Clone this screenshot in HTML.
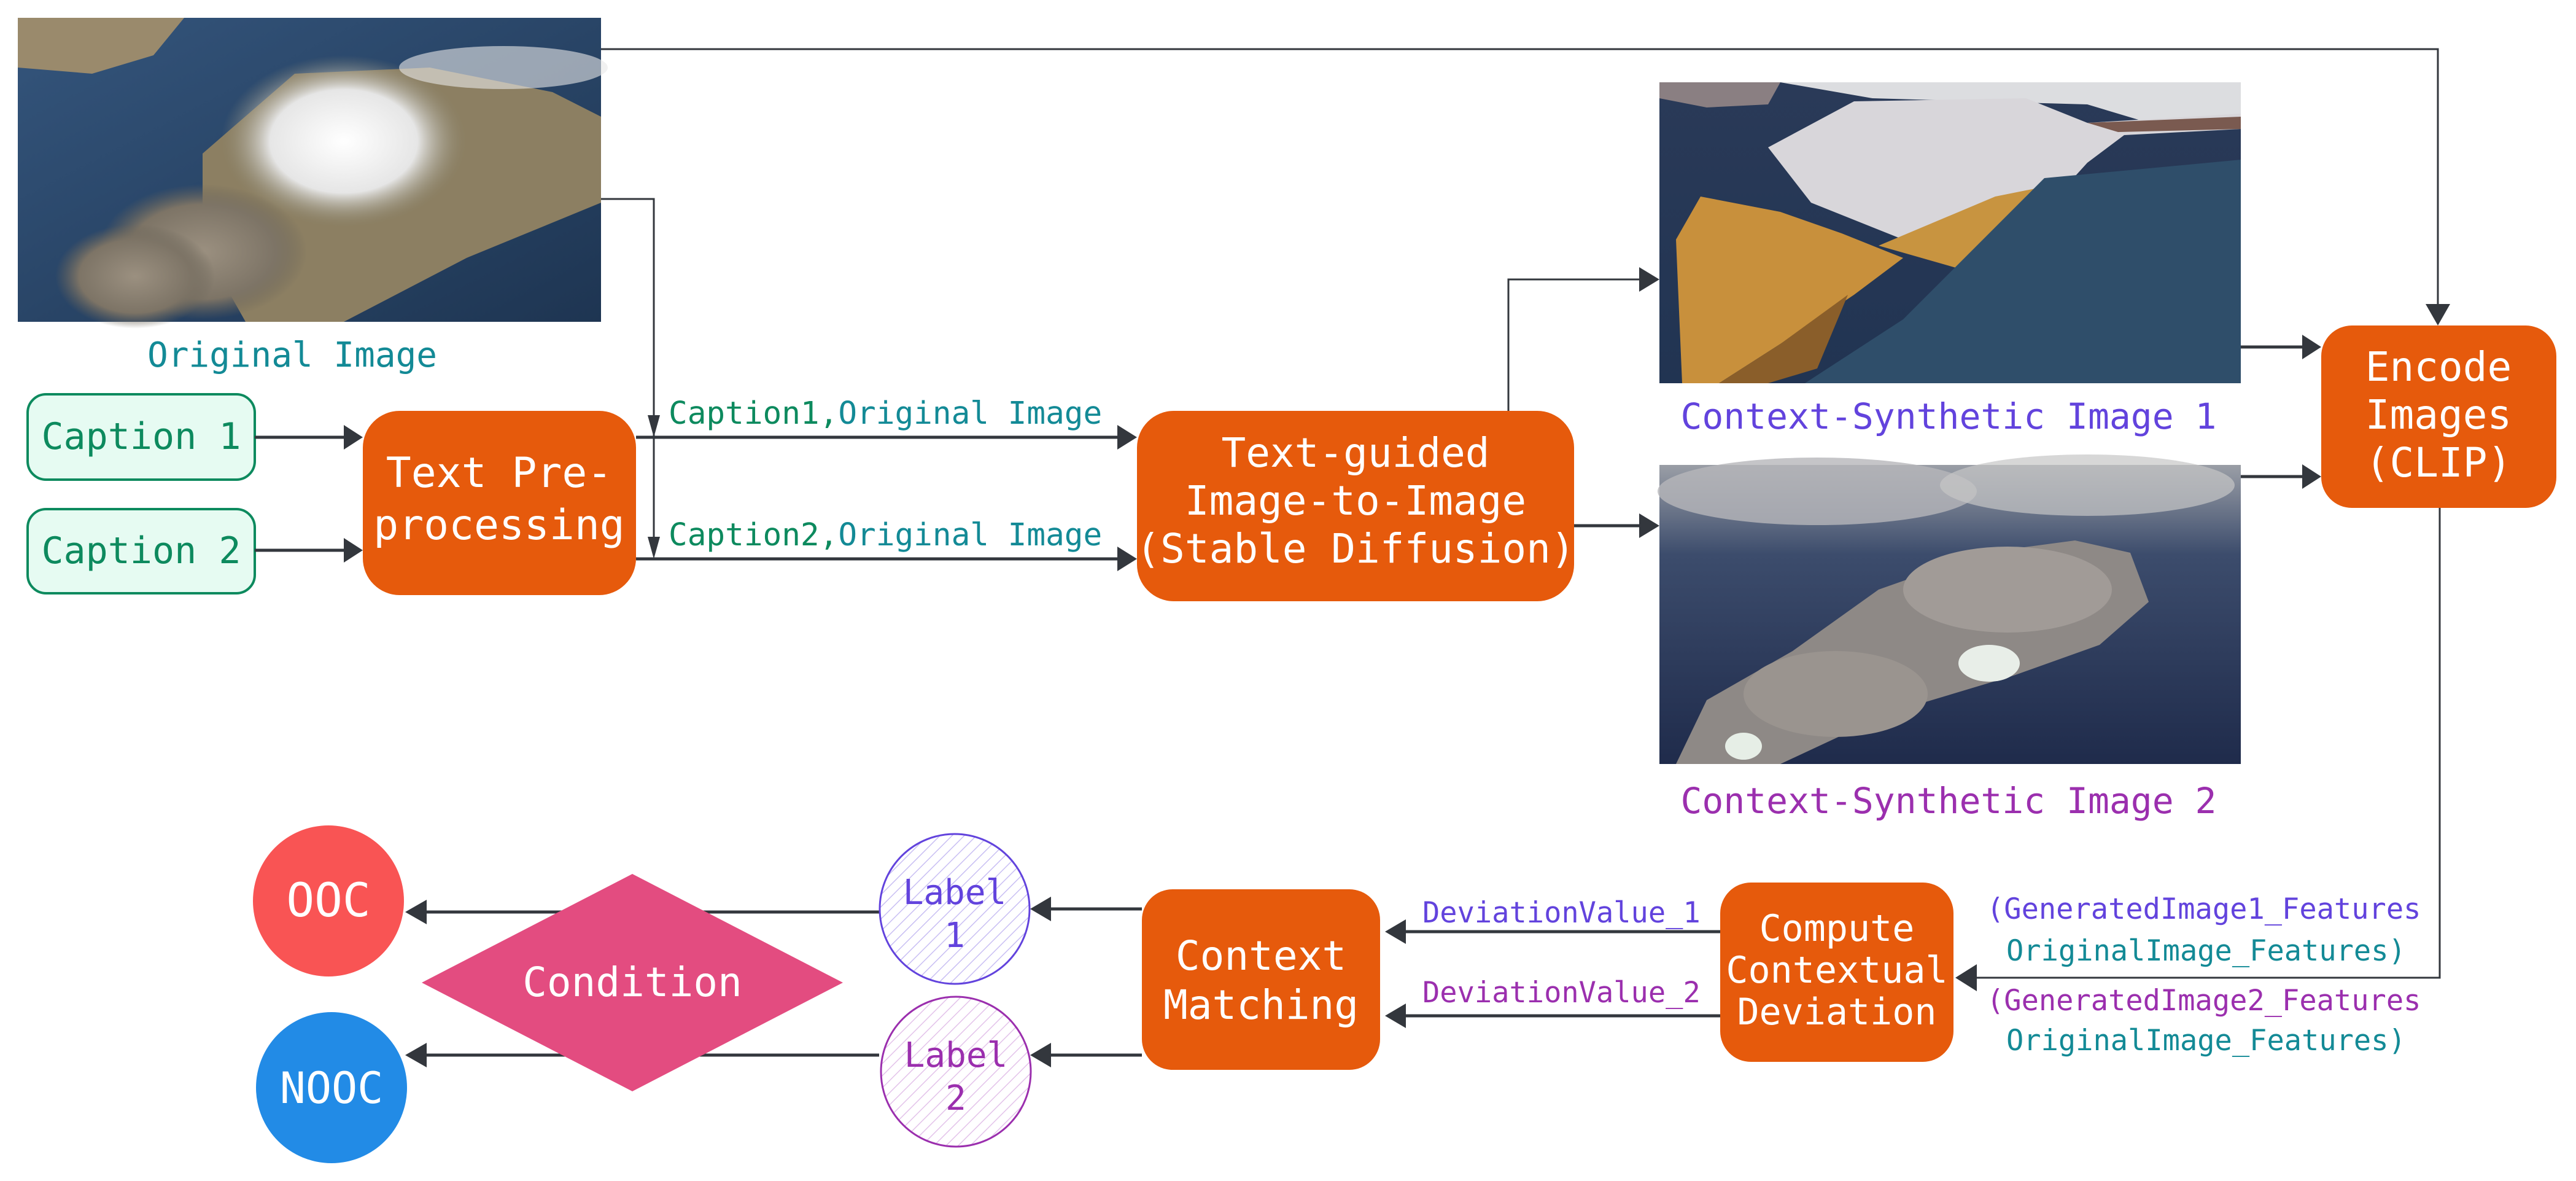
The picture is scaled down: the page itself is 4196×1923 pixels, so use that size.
<!DOCTYPE html>
<html><head><meta charset="utf-8"><style>
html,body{margin:0;padding:0;background:#fff;}
svg{display:block;}
text{font-family:"DejaVu Sans Mono","Liberation Mono",monospace;}
</style></head><body>
<svg width="4196" height="1923" viewBox="0 0 4196 1923" xmlns="http://www.w3.org/2000/svg">
<defs>
<linearGradient id="sea" x1="0" y1="0" x2="1" y2="1"><stop offset="0" stop-color="#34557c"/><stop offset="1" stop-color="#1e3552"/></linearGradient>
<radialGradient id="snow" cx="0.5" cy="0.5" r="0.5"><stop offset="0" stop-color="#ffffff"/><stop offset="0.6" stop-color="#e6e6e6"/><stop offset="1" stop-color="#8a8670" stop-opacity="0"/></radialGradient>
<radialGradient id="ash" cx="0.5" cy="0.5" r="0.5"><stop offset="0" stop-color="#9b9080"/><stop offset="0.7" stop-color="#7d7466"/><stop offset="1" stop-color="#6a6458" stop-opacity="0"/></radialGradient>
<linearGradient id="img1" x1="0" y1="0" x2="0" y2="1"><stop offset="0" stop-color="#2a3a58"/><stop offset="1" stop-color="#213452"/></linearGradient>
<linearGradient id="img2" x1="0" y1="0" x2="0" y2="1"><stop offset="0" stop-color="#9a9ea6"/><stop offset="0.3" stop-color="#3c4c6c"/><stop offset="1" stop-color="#1f2b4b"/></linearGradient>
<pattern id="h1" width="14" height="14" patternUnits="userSpaceOnUse" patternTransform="rotate(45)"><rect width="14" height="14" fill="#fff"/><line x1="0" y1="0" x2="0" y2="14" stroke="#c9bff3" stroke-width="3"/></pattern>
<pattern id="h2" width="14" height="14" patternUnits="userSpaceOnUse" patternTransform="rotate(45)"><rect width="14" height="14" fill="#fff"/><line x1="0" y1="0" x2="0" y2="14" stroke="#e3c3ea" stroke-width="3"/></pattern>
</defs>

<!-- Original image -->
<rect x="29" y="29" width="950" height="495" fill="url(#sea)"/>
<path d="M29 29 L300 29 L250 90 L150 120 L29 110 Z" fill="#9a8a6c"/>
<path d="M330 250 L480 120 L700 110 L900 150 L979 190 L979 330 L760 420 L560 524 L400 524 L330 400 Z" fill="#8c7f62"/>
<ellipse cx="560" cy="230" rx="200" ry="140" fill="url(#snow)"/>
<ellipse cx="330" cy="410" rx="170" ry="110" fill="url(#ash)"/>
<ellipse cx="220" cy="450" rx="130" ry="85" fill="url(#ash)"/>
<ellipse cx="820" cy="110" rx="170" ry="35" fill="#e8e8e8" opacity="0.6"/>
<text x="476" y="597" font-size="56" fill="#138a96" text-anchor="middle">Original Image</text>

<!-- Captions -->
<rect x="45" y="642" width="370" height="139" rx="30" fill="#e6fbf2" stroke="#0d8a5e" stroke-width="4"/>
<text x="230" y="731" font-size="60" fill="#0d8a5e" text-anchor="middle">Caption 1</text>
<rect x="45" y="829" width="370" height="137" rx="30" fill="#e6fbf2" stroke="#0d8a5e" stroke-width="4"/>
<text x="230" y="917" font-size="60" fill="#0d8a5e" text-anchor="middle">Caption 2</text>

<!-- Text preprocessing -->
<rect x="591" y="669" width="445" height="300" rx="60" fill="#e65a0c"/>
<text x="813" y="793" font-size="68" fill="#fff" text-anchor="middle">Text Pre-</text>
<text x="813" y="878" font-size="68" fill="#fff" text-anchor="middle">processing</text>

<g stroke="#33373d" stroke-width="5" fill="none">
<line x1="415" y1="712" x2="560" y2="712"/>
<line x1="415" y1="896" x2="560" y2="896"/>
<line x1="1036" y1="712" x2="1820" y2="712"/>
<line x1="1036" y1="910" x2="1820" y2="910"/>
<line x1="2564" y1="856" x2="2670" y2="856"/>
<line x1="3650" y1="565" x2="3750" y2="565"/>
<line x1="3650" y1="776" x2="3750" y2="776"/>
<line x1="2802" y1="1517" x2="2290" y2="1517"/>
<line x1="2802" y1="1654" x2="2290" y2="1654"/>
<line x1="1860" y1="1480" x2="1712" y2="1480"/>
<line x1="1860" y1="1718" x2="1712" y2="1718"/>
<line x1="1432" y1="1485" x2="695" y2="1485"/>
<line x1="1432" y1="1718" x2="695" y2="1718"/>
</g>
<g stroke="#33373d" stroke-width="3" fill="none">
<polyline points="979,324 1065,324 1065,880"/>
<polyline points="979,80 3971,80 3971,495"/>
<polyline points="2457,669 2457,455 2670,455"/>
<polyline points="3974,827 3974,1592 3220,1592"/>
</g>
<g fill="#33373d">
<polygon points="560,692 591,712 560,732"/>
<polygon points="560,876 591,896 560,916"/>
<polygon points="1820,692 1852,712 1820,732"/>
<polygon points="1820,890 1852,910 1820,930"/>
<polygon points="1055,676 1075,676 1065,712"/>
<polygon points="1055,874 1075,874 1065,910"/>
<polygon points="2670,836 2703,856 2670,876"/>
<polygon points="2670,435 2703,455 2670,475"/>
<polygon points="3951,495 3991,495 3971,530"/>
<polygon points="3750,545 3781,565 3750,585"/>
<polygon points="3750,756 3781,776 3750,796"/>
<polygon points="3220,1570 3185,1592 3220,1614"/>
<polygon points="2290,1497 2256,1517 2290,1537"/>
<polygon points="2290,1634 2256,1654 2290,1674"/>
<polygon points="1712,1460 1678,1480 1712,1500"/>
<polygon points="1712,1698 1678,1718 1712,1738"/>
<polygon points="695,1465 660,1485 695,1505"/>
<polygon points="695,1698 660,1718 695,1738"/>
</g>

<text x="1089" y="690" font-size="51"><tspan fill="#0d8a5e">Caption1,</tspan><tspan fill="#138a96">Original Image</tspan></text>
<text x="1089" y="888" font-size="51"><tspan fill="#0d8a5e">Caption2,</tspan><tspan fill="#138a96">Original Image</tspan></text>

<!-- Text-guided -->
<rect x="1852" y="669" width="712" height="310" rx="60" fill="#e65a0c"/>
<text x="2208" y="760" font-size="66" fill="#fff" text-anchor="middle">Text-guided</text>
<text x="2208" y="838" font-size="66" fill="#fff" text-anchor="middle">Image-to-Image</text>
<text x="2208" y="916" font-size="66" fill="#fff" text-anchor="middle">(Stable Diffusion)</text>

<!-- Image 1 -->
<rect x="2703" y="134" width="947" height="490" fill="url(#img1)"/>
<path d="M2703 134 L2900 134 L2880 170 L2780 175 L2703 160 Z" fill="#8a7f82"/>
<path d="M2900 134 L3650 134 L3650 210 L3500 200 L3400 170 L3050 160 Z" fill="#dcdde0"/>
<path d="M2880 240 L3020 165 L3300 160 L3400 200 L3650 185 L3650 210 L3460 220 L3400 265 L3350 320 L3150 410 L2950 330 Z" fill="#d8d6da"/>
<path d="M3650 190 L3650 210 L3450 215 L3400 200 Z" fill="#7a5a50"/>
<path d="M3060 400 L3250 320 L3350 300 L3300 380 L3200 440 Z" fill="#c89440"/>
<path d="M2730 390 L2770 320 L2900 345 L3000 380 L3100 420 L3020 480 L2900 560 L2800 624 L2740 624 Z" fill="#c8903c"/>
<path d="M2800 624 L2900 560 L3010 480 L2960 600 L2880 624 Z" fill="#8a5e2a"/>
<path d="M3330 290 L3650 260 L3650 624 L2940 624 L3100 520 Z" fill="#2f4e6a"/>
<text x="3174" y="698" font-size="58" fill="#6243dd" text-anchor="middle">Context-Synthetic Image 1</text>

<!-- Image 2 -->
<rect x="2703" y="757" width="947" height="487" fill="url(#img2)"/>
<ellipse cx="2960" cy="800" rx="260" ry="55" fill="#b6b7ba" opacity="0.8"/>
<ellipse cx="3400" cy="790" rx="240" ry="50" fill="#c6c6c6" opacity="0.7"/>
<path d="M2730 1244 L2780 1140 L2920 1060 L3060 960 L3230 900 L3380 880 L3470 900 L3500 980 L3420 1050 L3280 1100 L3080 1160 L2900 1244 Z" fill="#8e8986"/>
<ellipse cx="3270" cy="960" rx="170" ry="70" fill="#a19b97"/>
<ellipse cx="2990" cy="1130" rx="150" ry="70" fill="#9a948f"/>
<ellipse cx="3240" cy="1080" rx="50" ry="30" fill="#e8eee8"/>
<ellipse cx="2840" cy="1215" rx="30" ry="22" fill="#e6eee6"/>
<text x="3174" y="1324" font-size="58" fill="#9b2fae" text-anchor="middle">Context-Synthetic Image 2</text>

<!-- Encode -->
<rect x="3781" y="530" width="383" height="297" rx="50" fill="#e65a0c"/>
<text x="3972" y="620" font-size="66" fill="#fff" text-anchor="middle">Encode</text>
<text x="3972" y="698" font-size="66" fill="#fff" text-anchor="middle">Images</text>
<text x="3972" y="776" font-size="66" fill="#fff" text-anchor="middle">(CLIP)</text>

<!-- Compute -->
<rect x="2802" y="1437" width="380" height="292" rx="50" fill="#e65a0c"/>
<text x="2992" y="1532" font-size="60" fill="#fff" text-anchor="middle">Compute</text>
<text x="2992" y="1600" font-size="60" fill="#fff" text-anchor="middle">Contextual</text>
<text x="2992" y="1668" font-size="60" fill="#fff" text-anchor="middle">Deviation</text>

<text x="3236" y="1496" font-size="47" fill="#6243dd">(GeneratedImage1_Features</text>
<text x="3268" y="1564" font-size="47" fill="#138a96">OriginalImage_Features)</text>
<text x="3236" y="1645" font-size="47" fill="#9b2fae">(GeneratedImage2_Features</text>
<text x="3268" y="1710" font-size="47" fill="#138a96">OriginalImage_Features)</text>

<text x="2317" y="1502" font-size="47" fill="#6243dd">DeviationValue_1</text>
<text x="2317" y="1632" font-size="47" fill="#9b2fae">DeviationValue_2</text>

<!-- Context Matching -->
<rect x="1860" y="1448" width="388" height="294" rx="50" fill="#e65a0c"/>
<text x="2054" y="1579" font-size="66" fill="#fff" text-anchor="middle">Context</text>
<text x="2054" y="1659" font-size="66" fill="#fff" text-anchor="middle">Matching</text>

<!-- Labels -->
<circle cx="1555" cy="1480" r="122" fill="url(#h1)" stroke="#6243dd" stroke-width="3"/>
<text x="1555" y="1472" font-size="56" fill="#6243dd" text-anchor="middle">Label</text>
<text x="1555" y="1542" font-size="56" fill="#6243dd" text-anchor="middle">1</text>
<circle cx="1557" cy="1745" r="122" fill="url(#h2)" stroke="#9b2fae" stroke-width="3"/>
<text x="1557" y="1737" font-size="56" fill="#9b2fae" text-anchor="middle">Label</text>
<text x="1557" y="1807" font-size="56" fill="#9b2fae" text-anchor="middle">2</text>

<!-- Condition -->
<polygon points="1030,1423 1373,1600 1030,1777 687,1600" fill="#e34c80"/>
<text x="1030" y="1622" font-size="66" fill="#fff" text-anchor="middle">Condition</text>

<circle cx="535" cy="1467" r="123" fill="#f95454"/>
<text x="535" y="1492" font-size="76" fill="#fff" text-anchor="middle">OOC</text>
<circle cx="540" cy="1771" r="123" fill="#228be6"/>
<text x="540" y="1796" font-size="70" fill="#fff" text-anchor="middle">NOOC</text>
</svg>
</body></html>
